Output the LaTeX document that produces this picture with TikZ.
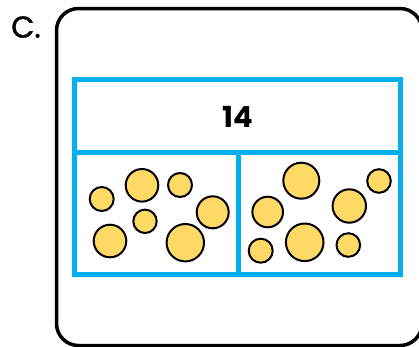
\documentclass[tikz,border=0pt]{standalone}
\usepackage{fontspec}
\setmainfont{Poppins}
\newfontfamily\labelfont[FakeBold=1.2]{Poppins}
\definecolor{barblue}{HTML}{00B0F0}
\definecolor{dotfill}{HTML}{FFD966}
\begin{document}
\begin{tikzpicture}[x=1pt,y=-1pt,
  dot/.style={circle,draw=black,line width=2pt,fill=dotfill,inner sep=0pt,minimum size=#1},
  bar/.style={draw=barblue,line width=5pt}]
\useasboundingbox (0,0) rectangle (419,346);
\begin{scope}
\clip (0,0) rectangle (419,346);
\draw[line width=3.5pt,rounded corners=22pt] (56.5,8.5) rectangle (422,345.5);
\end{scope}
\node[font=\fontsize{30}{30}\labelfont] (lbl) at (26,27) {C.};
\draw[bar] (74.5,79.5) rectangle (400.5,274.5);
\draw[bar] (74.5,152.5) -- (400.5,152.5);
\draw[bar] (238,152.5) -- (238,274.5);
\node[font=\fontsize{29}{29}\selectfont\bfseries] (total) at (238,117) {14};
% left part
\node[dot=24pt] (l1) at (101.7,199) {};
\node[dot=32.6pt] (l2) at (142,185.3) {};
\node[dot=24pt] (l3) at (180,185) {};
\node[dot=32pt] (l4) at (212.7,212.3) {};
\node[dot=23.4pt] (l5) at (145,221.3) {};
\node[dot=32.6pt] (l6) at (110,241) {};
\node[dot=37.4pt] (l7) at (185.3,242.7) {};
% right part
\node[dot=36pt] (r1) at (301.3,180.7) {};
\node[dot=23.6pt] (r2) at (379,181) {};
\node[dot=30.6pt] (r3) at (267.7,212) {};
\node[dot=33.4pt] (r4) at (349.3,206) {};
\node[dot=24pt] (r5) at (260.7,250.7) {};
\node[dot=37.6pt] (r6) at (304.7,242.3) {};
\node[dot=23.6pt] (r7) at (348.3,245) {};
\end{tikzpicture}
\end{document}
